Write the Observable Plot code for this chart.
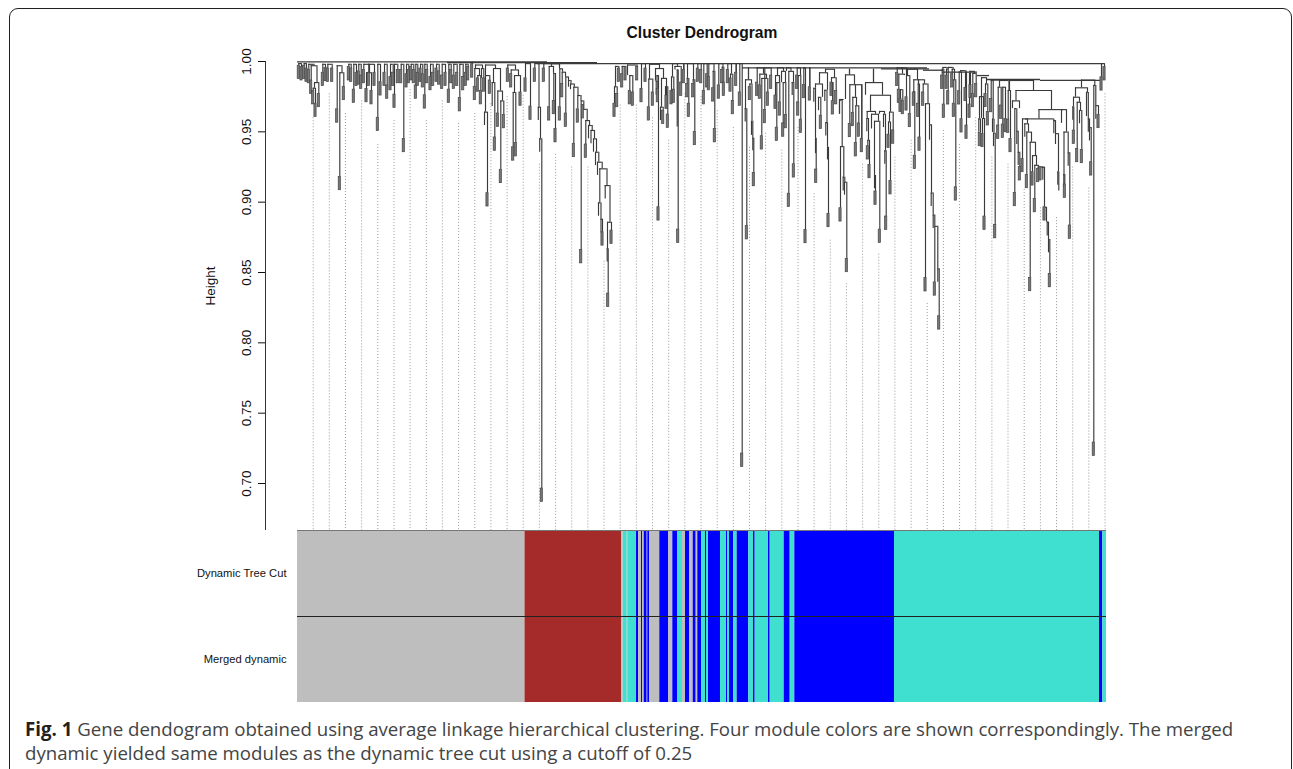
<!DOCTYPE html>
<html><head><meta charset="utf-8">
<script src="https://cdn.jsdelivr.net/npm/d3@7"></script>
<script src="https://cdn.jsdelivr.net/npm/@observablehq/plot@0.6"></script>
<style>
html,body{margin:0;padding:0;background:#fff;width:1293px;height:769px;overflow:hidden}
#frame{position:absolute;left:9px;top:8px;width:1283px;height:790px;border:1.6px solid #231f20;border-radius:9px;box-sizing:border-box}
#chart{position:absolute;left:0;top:0}
#caption{position:absolute;left:25px;top:717px;width:1262px;font:18.66px/24px "Open Sans",sans-serif;color:#444;white-space:nowrap}
#caption b{color:#231f20}
</style></head><body>
<div id="frame"></div><div id="chart"></div>
<div id="caption"><b>Fig. 1</b> Gene dendogram obtained using average linkage hierarchical clustering. Four module colors are shown correspondingly. The merged<br>dynamic yielded same modules as the dynamic tree cut using a cutoff of 0.25</div>
<script>
const yTicks=[0.70,0.75,0.80,0.85,0.90,0.95,1.00];
const rows=["Dynamic Tree Cut","Merged dynamic"];
const guideX=[15.7,31.8,48,64.1,80.3,96.5,112.6,128.8,144.9,161.1,177.3,193.4,209.6,225.7,241.9,258.1,274.2,290.4,306.5,322.7,338.9,355,371.2,387.3,403.5,419.7,435.8,452,468.1,484.3,500.5,516.6,532.8,548.9,565.1,581.3,597.4,613.6,629.7,645.9,662.1,678.2,694.4,710.5,726.7,742.9,759,775.2,791.3,807.5];
const guideTop=[.960,.977,.963,.972,.941,.958,.980,.958,.972,.956,.963,.970,.975,.976,.927,.934,.925,.925,.858,.969,.969,.960,.944,.977,.975,.965,.953,.939,.949,.937,.953,.906,.873,.842,.927,.863,.932,.944,.828,.951,.941,.960,.932,.927,.909,.896,.889,.925,.910,.977];
// merges of the dendrogram: [left, right, height, bottom of left leg, bottom of right leg]
const forks=[
[1.3,4,.9985,.997,.996],[6.7,9,.9985,.997,.995],[11.3,16.5,.998,.994,.997],[13.7,19.5,.997,.9865,.985],[17,21.3,.985,.981,.977],[15.7,18,.981,.979,.970],[25.3,28,.998,.992,.9955],[30.3,34.7,.998,.995,.995],[39.7,44.5,.997,.966,.992],[42.3,46.3,.992,.918,.982],[51.3,53.7,.998,.996,.995],[56.3,59,.998,.980,.992],[61.3,63.7,.998,.993,.990],[66.3,72,.998,.994,.992],[69,74,.992,.9805,.979],[71.3,77,.998,.992,.992],[80.3,83,.998,.960,.9853],[87,89.7,.998,.992,.983],[93,95.7,.998,.989,.992],[97,100.3,.998,.9765,.994],[103.7,106.3,.998,.994,.945],[109,111.3,.998,.991,.994],[113.7,116.3,.998,.996,.994],[118.3,120.3,.998,.983,.992],[123,125.3,.998,.995,.991],[127.3,129.7,.998,.976,.994],[133,135.7,.998,.989,.992],[139,141.7,.998,.995,.993],[144.7,148,.998,.990,.992],[151.3,153.7,.998,.980,.994],[156.3,159.7,.998,.990,.992],[162.3,165.7,.998,.974,.989],[168.3,170.7,.998,.992,.996],[174.7,174.7,.9995,.998,.998],
[178,185,.9975,.995,.995],[177.3,182,.995,.982,.990],[180.3,183.3,.990,.988,.979],[184,186.3,.995,.988,.988],[188,198,.9975,.990,.995],[188,192.3,.990,.964,.9865],[187,190,.964,.9545,.9064],[196,203,.995,.985,.979],[194.7,197.3,.985,.968,.946],[200.3,205,.979,.963,.972],[203.3,206.3,.972,.923,.962],[210.3,218,.9975,.995,.994],[213.7,221,.994,.991,.990],[217,223,.990,.978,.978],[215.7,218.3,.978,.939,.942],
[228,233,.9985,.988,.968],[237.3,241.5,.9985,.995,.9675],[240.8,243,.9675,.958,.945],[242.2,244.3,.945,.9355,.6964],[246.3,262,.9985,.995,.9965],[251.7,256,.9965,.9675,.9915],[256.3,258,.9915,.972,.952],[254,262,.9985,.9965,.9948],
[262.3,265,.9948,.9675,.9924],[264.7,268,.9924,.984,.989],[268.3,271,.989,.963,.9865],[271,273.5,.9865,.9817,.984],[273,276.8,.984,.980,.9817],[276.3,280.5,.9817,.9415,.9758],[280.3,283.5,.9758,.966,.972],[283.7,286.3,.972,.866,.966],[285.3,289.7,.966,.969,.958],[288.3,292,.958,.941,.9545],[291,294.7,.9545,.945,.951],[293.5,297,.951,.9415,.945],[296,299,.945,.9355,.9355],[298,301.3,.9355,.926,.9284],[300,304.7,.9284,.919,.9237],[302.3,309.5,.9237,.8995,.9118],[301,303.5,.8995,.890,.8879],[303.5,305,.8879,.878,.8786],[307.7,312.5,.9118,.9023,.8857],[310,314,.8857,.8668,.8798],[309.7,310.7,.8668,.8575,.835],
[318,321.3,.9965,.982,.995],[317,319.7,.982,.970,.977],[324.7,328,.9965,.991,.996],[330,339.7,.9975,.990,.996],[332.3,335.3,.990,.979,.978],
[344,348,.9985,.9805,.995],[352,362,.998,.9875,.995],[351.3,355.3,.9875,.9675,.978],[358,366,.995,.986,.988],[358.7,360.3,.986,.976,.9805],[359.5,361,.99,.986,.8964],[364,369,.988,.9675,.9758],[363,365.7,.9675,.958,.965],[368,370.3,.982,.975,.9623],
[375,380,.9985,.989,.9965],[374,376.3,.989,.979,.98],[377.5,383.7,.9965,.994,.985],[379.7,380.7,.994,.9535,.8805],[386.3,386.3,.9985,.994,.994],[390,396,.9985,.988,.987],[389.7,391.3,.988,.984,.970],[395.7,397.3,.987,.984,.950],[400.3,403.7,.9985,.995,.994],[406.3,409.7,.9985,.979,.991],[411.3,416.5,.9985,.989,.993],[415.7,417.3,.993,.981,.952],[421.3,425.5,.9985,.983,.996],[424.7,426.3,.996,.994,.985],[430.3,434,.9985,.994,.991],[433,435.3,.991,.988,.972],[438.7,438.7,.9985,.992,.992],[442.3,444.7,.9985,.978,.7213],
[451,451,.9955,.987,.987],[448,454,.987,.9665,.984],[447.7,449.3,.9665,.957,.883],[452.3,454.5,.984,.982,.9575],[454,455.3,.9575,.9475,.9455],[455.3,456.3,.9455,.9365,.9208],
[459.7,466,.9955,.985,.991],[462.3,469,.991,.983,.988],[464.3,470.3,.988,.9469,.978],[467.3,473.7,.9955,.9656,.990],[480,486,.9955,.99,.993],[478,482,.99,.9758,.985],[479.3,482.3,.985,.953,.971],[484,488,.993,.985,.985],[485.7,488.3,.985,.956,.962],[491.3,496,.993,.906,.985],[494.7,496.3,.985,.9758,.927],[489,493.5,.9955,.993,.993],[499.7,503,.9955,.990,.99],[500.7,503.3,.99,.971,.9587],[506.3,508,.9955,.9834,.8803],[512.3,512.3,.9955,.9817,.9817],
[528,537,.9945,.992,.9885],[522,530,.992,.984,.9795],[518,525,.984,.981,.9745],[516.3,518,.981,.971,.9455],[518,518.7,.9455,.9345,.9232],[521,523.3,.9745,.965,.9615],[527.3,529.5,.9795,.9715,.9565],[528.3,530,.9565,.947,.939],[530,531,.939,.930,.8917],[534,538.7,.9885,.985,.979],[535.3,535.3,.985,.9718,.9718],
[552,552,.9945,.9905,.9905],[548,557,.9905,.973,.9835],[542,546,.973,.9625,.9725],[542,544.7,.9725,.9625,.9395],[543,546.3,.9395,.8957,.9178],[545.7,547.3,.9178,.908,.9142],[547,549.3,.9142,.905,.8597],[552.3,558,.9835,.9557,.9745],[555.3,559,.9745,.9635,.9685],[558.3,561.3,.9685,.942,.956],[564.3,564.3,.9835,.945,.945],[558,564.3,.9835,.9835,.9835],
[576,576,.9945,.985,.985],[568,585,.985,.976,.976],[573,593,.976,.9645,.964],[569.7,578,.9645,.9595,.9625],[569.3,571,.9595,.95,.944],[570.3,572,.944,.9398,.9265],[574,581,.9625,.952,.9575],[577,582.3,.9575,.919,.8805],[577,578,.919,.9095,.9076],[586,588,.9625,.953,.9365],[587.3,588.7,.9365,.927,.8898],[582,587,.9645,.9625,.9625],[592,595.7,.964,.957,.951],[591,593,.957,.948,.915],
[599.7,605,.9955,.992,.991],[601.3,607,.991,.98,.99],[603,605.3,.98,.9735,.972],[609,612.3,.99,.9746,.9628],[604,609,.9955,.9945,.99],[610,620,.9945,.99,.987],[616.3,621,.987,.978,.984],[616.3,617.3,.9785,.978,.933],[620.7,622,.984,.97,.946],[621,627,.987,.984,.984],[625.7,630.5,.984,.978,.97],[628,632,.97,.846,.955],[632,634,.955,.944,.9065],[633.7,635.7,.9065,.897,.8908],[635.7,637.3,.8908,.8813,.8828],[637.3,640.3,.8828,.843,.8526],[640.3,641.7,.8526,.843,.8189],
[644.7,646.3,.9945,.99,.9694],[649,650.7,.9945,.99,.9789],[654.7,657,.9945,.991,.987],[656.3,658.3,.987,.97,.9106],[661.7,664,.9925,.9789,.959],[668,669,.9925,.9813,.9545],[672,673,.9915,.9694,.9834],[675.3,678.7,.9915,.977,.984],
[645.5,649.7,.9958,.9945,.9945],[651,655.7,.9958,.9945,.9945],[663,668.5,.9935,.9925,.9925],[672.5,677,.993,.9915,.9915],
[684,689,.9885,.9595,.984],[681.3,683,.9592,.9497,.9493],[685,687,.9595,.9486,.8898],[682,686,.975,.9592,.9595],[688,690.3,.984,.977,.964],
[693.7,695.7,.9865,.9734,.959],[695,696.5,.959,.9495,.949],[696,697.7,.949,.9395,.8838],[700.7,703.7,.9817,.9545,.9687],[705.3,708,.9817,.9552,.9592],[710.7,713,.9794,.9587,.945],[702,711.5,.9865,.9817,.9794],[695,707,.9868,.9865,.9865],[717.3,719.3,.9665,.9066,.9505],[719.3,720.7,.9505,.941,.9355],[720.7,722.3,.9355,.926,.9249],[715,722,.972,.9665,.9665],[725,730,.9592,.9308,.9557],[727.3,731,.9557,.9462,.9498],[729.3,734,.9498,.9194,.9426],[732.7,738,.9426,.8462,.9331],[735,739,.9331,.9213,.9262],[737.3,741,.9262,.9023,.9249],[740.7,743,.9249,.9237,.9249],[745.3,747,.9249,.9155,.8964],[743,746,.9249,.9249,.9249],[747,749,.8964,.887,.8858],[749.7,751,.8858,.876,.8734],[751,752.3,.8734,.864,.849],
[728,756.3,.9592,.9592,.958],[756.3,758,.958,.9487,.9487],[758,761,.9487,.941,.9215],[760.3,761.3,.9215,.912,.9079],[741.5,766,.9658,.9592,.9658],[764,769,.9658,.956,.9498],[766.5,770.7,.9498,.9196,.9351],[766.3,767.3,.9196,.91,.9125],[770.7,772.3,.9351,.9256,.8834],[718.5,754,.9794,.972,.9658],[712,736,.9865,.9794,.9794],
[778,790,.9813,.9746,.978],[776,782,.9746,.9677,.971],[775.3,776.3,.9677,.9583,.9509],[779.7,783,.971,.9379,.9652],[782,784.3,.9652,.9557,.9372],[789,790.8,.978,.9608,.9592],[790.8,792,.9592,.9497,.953],[792,793.7,.953,.9435,.9284],[784,797.3,.9868,.9813,.983],[796.3,798.3,.983,.7291,.9686],[798.3,801,.9686,.959,.9621],[804,807,.9985,.9888,.996]];
// backbone bars near the top of the tree: [left, right, height]
const spine=[[0,250,.9997],[150,300,.9992],[240,806,.9985],[445,630,.9955],[584,632,.9948],[626,646,.9938],[645,680,.9925],[680,692,.990],[690,743,.9872],[743,803,.9866]];
const pairs=[[1.3,.997],[4,.996],[6.7,.997],[9,.995],[11.3,.994],[13.7,.9865],[15.7,.979],[18,.970],[21.3,.977],[25.3,.992],[28,.9955],[30.3,.995],[34.7,.995],[39.7,.966],[42.3,.918],[46.3,.982],[51.3,.996],[53.7,.995],[56.3,.980],[59,.992],[61.3,.993],[63.7,.990],[66.3,.994],[69,.9805],[74,.979],[71.3,.992],[77,.992],[80.3,.960],[83,.9853],[87,.992],[89.7,.983],[93,.989],[95.7,.992],[97,.9765],[100.3,.994],[103.7,.994],[106.3,.945],[109,.991],[111.3,.994],[113.7,.996],[116.3,.994],[118.3,.983],[120.3,.992],[123,.995],[125.3,.991],[127.3,.976],[129.7,.994],[133,.989],[135.7,.992],[139,.995],[141.7,.993],[144.7,.990],[148,.992],[151.3,.980],[153.7,.994],[156.3,.990],[159.7,.992],[162.3,.974],[165.7,.989],[168.3,.992],[170.7,.996],[174.7,.998],
[177.3,.982],[180.3,.988],[183.3,.979],[186.3,.988],[190,.9064],[192.3,.9865],[197.3,.946],[200.3,.963],[203.3,.923],[206.3,.962],[210.3,.995],[213.7,.991],[215.7,.939],[218.3,.942],[223,.978],[228,.988],[233,.968],[237.3,.995],[244.3,.6964],[246.3,.995],[251.7,.9675],[256.3,.972],[258,.952],[262.3,.9675],[264.7,.984],[268.3,.963],[276.3,.9415],[280.3,.966],[283.7,.866],[285.3,.969],[288.3,.941],[305,.8786],[310.7,.835],[314,.8798],
[317,.970],[319.7,.977],[321.3,.995],[324.7,.991],[328,.996],[332.3,.979],[335.3,.978],[339.7,.996],[344,.9805],[348,.995],[351.3,.9675],[355.3,.978],[360.3,.9805],[361,.8964],[365.7,.965],[369,.9758],[370.3,.9623],[374,.979],[376.3,.98],[380.7,.8805],[383.7,.985],[386.3,.994],[389.7,.984],[391.3,.970],[395.7,.984],[397.3,.950],[400.3,.995],[403.7,.994],[406.3,.979],[409.7,.991],[411.3,.989],[415.7,.981],[417.3,.952],[421.3,.983],[424.7,.994],[426.3,.985],[430.3,.994],[433,.988],[435.3,.972],[438.7,.992],[442.3,.978],[444.7,.7213],
[449.3,.883],[452.3,.982],[456.3,.9208],[459.7,.985],[462.3,.983],[464.3,.9469],[467.3,.9656],[470.3,.978],[473.7,.990],[478,.9758],[479.3,.953],[482.3,.971],[485.7,.956],[488.3,.962],[491.3,.906],[496.3,.927],[499.7,.99],[500.7,.971],[503.3,.9587],[506.3,.9834],[508,.8803],[512.3,.9817],[518.7,.9232],[523.3,.9615],[531,.8917],[534,.985],[535.3,.9718],[538.7,.979],[543,.8957],[549.3,.8597],[552.3,.9557],[555.3,.9635],[558.3,.942],[561.3,.956],[564.3,.945],[570.3,.9398],[572,.9265],[578,.9076],[582.3,.8805],[588.7,.8898],[591,.948],[593,.915],[595.7,.951],
[599.7,.992],[601.3,.98],[603,.9735],[605.3,.972],[609,.9746],[612.3,.9628],[616.3,.978],[617.3,.933],[620.7,.97],[622,.946],[625.7,.978],[628,.846],[637.3,.843],[641.7,.8189],[644.7,.99],[646.3,.9694],[649,.99],[650.7,.9789],[654.7,.991],[656.3,.97],[658.3,.9106],[661.7,.9789],[664,.959],[668,.9813],[669,.9545],[672,.9694],[673,.9834],[675.3,.977],[678.7,.984],[682.3,.9493],[685,.9486],[687,.8898],[688,.977],[690.3,.964],[693.7,.9734],[697.7,.8838],[700.7,.9545],[703.7,.9687],[705.3,.9552],[708,.9592],[710.7,.9587],[713,.945],[717.3,.9066],[722.3,.9249],[725,.9308],[729.3,.9194],[732.7,.8462],[735,.9213],[737.3,.9023],[740.7,.9237],[743,.9249],[747,.8964],[752.3,.849],[767.3,.9125],[772.3,.8834],[776.3,.9509],[779.7,.9379],[784.3,.9372],[793.7,.9284],[796.3,.7291],[801,.9621],[804,.9888],[807,.996]];
const moduleEnd=[227.5,324,325.7,329.7,331,339,341,344,345,346.7,349.7,350.3,352.3,362.3,371.3,375.3,380,385,388,392.3,395.7,398.7,400.3,404.3,408,409,411,423,429,430.3,432,436.3,439.7,451.3,456,457.7,471,472.7,486.7,492.7,497.3,597,802,805.3,809];
const moduleColor=["#BEBEBE","#A52A2A","#BEBEBE","#40E0D0","#BEBEBE","#40E0D0","#0000FF","#BEBEBE","#0000FF","#BEBEBE","#0000FF","#BEBEBE","#0000FF","#BEBEBE","#0000FF","#BEBEBE","#0000FF","#40E0D0","#BEBEBE","#0000FF","#BEBEBE","#0000FF","#BEBEBE","#0000FF","#40E0D0","#0000FF","#40E0D0","#0000FF","#40E0D0","#0000FF","#40E0D0","#0000FF","#40E0D0","#0000FF","#40E0D0","#0000FF","#40E0D0","#0000FF","#40E0D0","#0000FF","#40E0D0","#0000FF","#40E0D0","#0000FF","#40E0D0"];
const hang=0.0095,pairWidth=2.2,ink="#3a3a3a",lw=1.15;
const xDomain=[0,809];
const treePlot=Plot.plot({width:1293,height:530,marginTop:61,marginBottom:0,marginLeft:297,marginRight:187,
 style:{background:"transparent",fontFamily:"'Liberation Sans',Arial,sans-serif",color:"#111"},
 x:{domain:xDomain,axis:null},
 y:{domain:[0.6666,1],axis:null},
 marks:[
  Plot.ruleX(guideX.map((x,i)=>({x,top:guideTop[i]})),{x:"x",y1:"top",y2:0.6666,stroke:"#999",strokeWidth:1,strokeDasharray:"1 2"}),
  Plot.ruleY(spine,{x1:d=>d[0],x2:d=>d[1],y:d=>d[2],stroke:ink,strokeWidth:1.3}),
  Plot.ruleY(forks,{x1:d=>d[0],x2:d=>d[1],y:d=>d[2],stroke:ink,strokeWidth:lw}),
  Plot.ruleX(forks,{x:d=>d[0],y1:d=>d[2],y2:d=>d[3],stroke:ink,strokeWidth:lw}),
  Plot.ruleX(forks,{x:d=>d[1],y1:d=>d[2],y2:d=>d[4],stroke:ink,strokeWidth:lw}),
  Plot.rect(pairs,{x1:d=>d[0]-pairWidth/2,x2:d=>d[0]+pairWidth/2,y1:d=>d[1],y2:d=>d[1]-hang,fill:"#777",stroke:"#444",strokeWidth:.7}),
  Plot.text(["Cluster Dendrogram"],{frameAnchor:"top",dy:-35,fontWeight:"bold",fontSize:15.6,fill:"#111"}),
  Plot.axisY({ticks:yTicks,tickFormat:".2f",anchor:"left",tickSize:7,tickPadding:8,tickRotate:-90,fontSize:13.5,label:null,dx:-32}),
  Plot.ruleX([-32],{y1:1,y2:0.6666,stroke:"#333",strokeWidth:1}),
  Plot.text(["Height"],{frameAnchor:"left",textAnchor:"middle",rotate:-90,dx:-87,dy:-10,fontSize:13.5,fill:"#111"})
 ]});
const ribbons=[];
moduleEnd.forEach((e,i)=>{const s=i?moduleEnd[i-1]:0;rows.forEach((r,k)=>ribbons.push({x1:s,x2:e,y1:k,y2:k+1,fill:moduleColor[i]}));});
const band=Plot.plot({width:1293,height:172,marginTop:0,marginBottom:0,marginLeft:297,marginRight:187,
 style:{background:"transparent",fontFamily:"'Liberation Sans',Arial,sans-serif",color:"#111"},
 x:{domain:xDomain,axis:null},
 y:{domain:[2,0],axis:null},
 marks:[
  Plot.rect(ribbons,{x1:"x1",x2:"x2",y1:"y1",y2:"y2",fill:d=>d.fill}),
  Plot.axisY({ticks:[0.5,1.5],tickFormat:d=>rows[Math.floor(d)],anchor:"left",tickSize:0,tickPadding:11,fontSize:11.2,label:null}),
  Plot.ruleY([0],{stroke:"#777"}),Plot.ruleY([1],{stroke:"#222"}),Plot.ruleY([2],{stroke:"#333"})
 ]});
document.getElementById("chart").append(treePlot,band);
</script></body></html>
